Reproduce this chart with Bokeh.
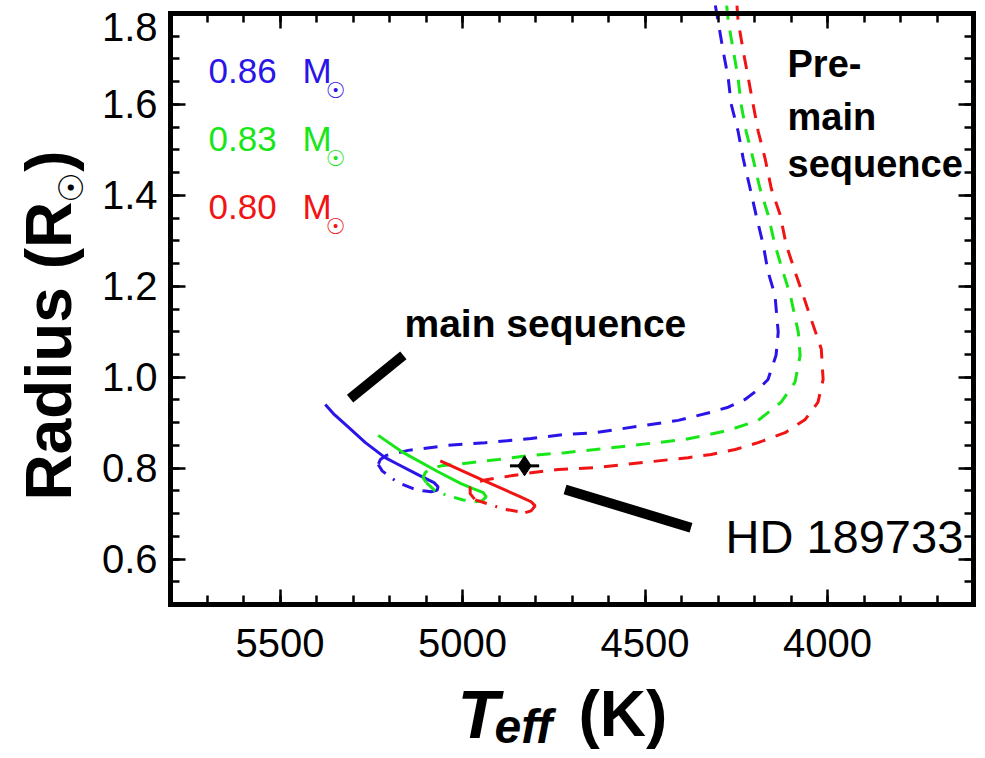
import math
from bokeh.plotting import figure
from bokeh.models import Range1d, FixedTicker, LinearAxis, Label, CustomJSTickFormatter
from bokeh.embed import file_html
from bokeh.resources import INLINE

# ---------------- data ----------------
# 0.86 Msun track: pre-main-sequence (dashed), ZAMS approach (dash-dot), main sequence (solid)
B_PMS_T = [4319, 4300, 4286, 4272, 4264, 4245, 4231, 4212, 4196, 4176, 4163, 4144, 4135, 4141, 4163,
           4190, 4226, 4272, 4319, 4374, 4409, 4636, 4719, 4812, 4938, 5039, 5149, 5184, 5209, 5225, 5231]
B_PMS_R = [1.872, 1.784, 1.718, 1.658, 1.601, 1.541, 1.481, 1.415, 1.358, 1.291, 1.232, 1.181, 1.099, 1.048, 0.995,
           0.973, 0.951, 0.934, 0.923, 0.912, 0.905, 0.878, 0.874, 0.865, 0.856, 0.850, 0.839, 0.832, 0.828, 0.819, 0.808]
B_ZA_T = [5231, 5220, 5203, 5176, 5135, 5108]
B_ZA_R = [0.808, 0.794, 0.783, 0.768, 0.755, 0.750]
B_MS_T = [5108, 5086, 5069, 5067, 5078, 5121, 5176, 5212, 5266, 5321, 5354, 5376]
B_MS_R = [0.750, 0.748, 0.752, 0.759, 0.768, 0.785, 0.808, 0.823, 0.856, 0.896, 0.920, 0.940]

# 0.83 Msun track
G_PMS_T = [4283, 4272, 4258, 4245, 4237, 4223, 4204, 4185, 4163, 4144, 4122, 4102, 4080, 4075,
           4089, 4127, 4190, 4272, 4335, 4390, 4636, 4719, 4812, 4902, 5020, 5058, 5088, 5102, 5108, 5099]
G_PMS_R = [1.872, 1.784, 1.718, 1.658, 1.601, 1.541, 1.481, 1.415, 1.358, 1.291, 1.232, 1.181, 1.099, 1.048,
           0.989, 0.945, 0.905, 0.883, 0.872, 0.863, 0.841, 0.834, 0.828, 0.819, 0.808, 0.805, 0.799, 0.790, 0.779, 0.768]
G_ZA_T = [5099, 5075, 5039, 4998, 4965]
G_ZA_R = [0.768, 0.750, 0.739, 0.730, 0.726]
G_MS_T = [4965, 4946, 4935, 4943, 4971, 5004, 5067, 5162, 5231]
G_MS_R = [0.726, 0.728, 0.737, 0.746, 0.755, 0.766, 0.792, 0.834, 0.872]

# 0.80 Msun track
R_PMS_T = [4253, 4245, 4231, 4217, 4204, 4190, 4171, 4154, 4130, 4113, 4089, 4067, 4045, 4017, 4012,
           4026, 4061, 4116, 4190, 4253, 4319, 4382, 4636, 4738, 4828, 4867, 4938, 4965, 4979, 4979, 4965]
R_PMS_R = [1.872, 1.784, 1.718, 1.658, 1.601, 1.541, 1.481, 1.415, 1.358, 1.291, 1.232, 1.181, 1.128, 1.062, 0.995,
           0.945, 0.907, 0.878, 0.856, 0.841, 0.830, 0.823, 0.801, 0.797, 0.788, 0.783, 0.774, 0.768, 0.757, 0.744, 0.730]
R_ZA_T = [4965, 4921, 4888, 4828]
R_ZA_R = [0.730, 0.719, 0.710, 0.702]
R_MS_T = [4828, 4812, 4801, 4812, 4847, 4949, 5061]
R_MS_R = [0.702, 0.706, 0.717, 0.726, 0.739, 0.775, 0.816]

# HD 189733
HD_T = [4830]
HD_T_ERR = [40]
HD_R = [0.805]

MASS_LABELS = ["0.86", "0.83", "0.80"]
MASS_COLORS = ["#2a14e8", "#19e619", "#f01414"]

X_TICKS = [4000, 4500, 5000, 5500]
X_TICK_LABELS = ["4000", "4500", "5000", "5500"]
X_MINOR = list(range(3600, 5801, 100))
Y_TICKS = [0.6, 0.8, 1.0, 1.2, 1.4, 1.6]
Y_TICK_LABELS = ["0.6", "0.8", "1.0", "1.2", "1.4", "1.6"]
Y_TOP_LABEL = "1.8"
Y_MINOR = [round(0.5 + 0.05 * i, 2) for i in range(27)]

# annotation pointers
MS_PTR_T = [5308, 5162]
MS_PTR_R = [0.953, 1.048]
HD_PTR_T = [4719, 4374]
HD_PTR_R = [0.753, 0.669]

BLUE, GREEN, RED = MASS_COLORS

# ---------------- geometry ----------------
X0, X1 = 5800, 3600            # plot box (reversed temperature axis)
Y0, Y1 = 0.5, 1.8
FL, FR, FT, FB = 170, 973, 13, 604          # plot box edges on the page
W, H = 983, 756


def t_at(px):
    return X0 + (px - FL) * (X1 - X0) / (FR - FL)


def r_at(py):
    return Y1 - (py - FT) * (Y1 - Y0) / (FB - FT)


p = figure(width=W, height=H, output_backend="svg", toolbar_location=None,
           x_range=Range1d(t_at(0), t_at(W)), y_range=Range1d(r_at(H), r_at(0)),
           min_border=0, x_axis_location=None, y_axis_location=None)
p.grid.visible = False
p.outline_line_color = None
p.background_fill_color = "white"
p.border_fill_color = "white"

TICK_FONT = "Liberation Sans"


def make_axis(ticks, minor, loc, bounds, labels=None):
    ax = LinearAxis(fixed_location=loc, bounds=bounds)
    ax.ticker = FixedTicker(ticks=ticks, minor_ticks=minor)
    ax.axis_line_color = "black"
    ax.axis_line_width = 5
    ax.axis_line_cap = "square"
    ax.major_tick_in = 15
    ax.major_tick_out = 0
    ax.minor_tick_in = 9
    ax.minor_tick_out = 0
    ax.major_tick_line_width = 2.5
    ax.minor_tick_line_width = 2.5
    ax.major_tick_line_color = "black"
    ax.minor_tick_line_color = "black"
    if labels is None:
        ax.formatter = CustomJSTickFormatter(code="return ''")
        ax.major_label_standoff = 0
        ax.major_label_text_font_size = "1px"
    else:
        ax.major_label_overrides = {t: l for t, l in zip(ticks, labels)}
        ax.major_label_text_font = TICK_FONT
        ax.major_label_text_font_size = "40px"
        ax.major_label_text_color = "black"
    return ax


xb = make_axis(X_TICKS, X_MINOR, Y0, (X1, X0), X_TICK_LABELS)
xb.major_label_standoff = 24
p.add_layout(xb, "below")
p.add_layout(make_axis(X_TICKS, X_MINOR, Y1, (X1, X0)), "above")
yl = make_axis(Y_TICKS, Y_MINOR, X0, (Y0, Y1), Y_TICK_LABELS)
yl.major_label_standoff = 13
p.add_layout(yl, "left")
p.add_layout(make_axis(Y_TICKS, Y_MINOR, X1, (Y0, Y1)), "right")

# ---------------- tracks ----------------
DASH = "14 11"
DASHDOT = "12 9 2 9"
LW = 3
for col, pt, pr, zt, zr, mt, mr in [
    (BLUE, B_PMS_T, B_PMS_R, B_ZA_T, B_ZA_R, B_MS_T, B_MS_R),
    (GREEN, G_PMS_T, G_PMS_R, G_ZA_T, G_ZA_R, G_MS_T, G_MS_R),
    (RED, R_PMS_T, R_PMS_R, R_ZA_T, R_ZA_R, R_MS_T, R_MS_R),
]:
    # the tracks run off the top of the plot box
    keep = [i for i, r in enumerate(pr) if r <= Y1 + 0.001]
    first = max(keep[0] - 1, 0)
    p.line(pt[first:], pr[first:], line_color=col, line_width=LW, line_dash=DASH)
    p.line(zt, zr, line_color=col, line_width=LW, line_dash=DASHDOT)
    p.line(mt, mr, line_color=col, line_width=LW)

# HD 189733 point with error bar
p.segment(x0=[t - e for t, e in zip(HD_T, HD_T_ERR)], x1=[t + e for t, e in zip(HD_T, HD_T_ERR)],
          y0=HD_R, y1=HD_R, line_color="black", line_width=3)
p.scatter(HD_T, HD_R, marker="diamond", size=20, color="black")

# pointer lines
p.line(MS_PTR_T, MS_PTR_R, line_color="black", line_width=10)
p.line(HD_PTR_T, HD_PTR_R, line_color="black", line_width=10)

# ---------------- texts ----------------
BOLD = "Liberation Sans"


def label(px_, py_, text, size, style="normal", color="black", font=BOLD, align="left", angle=0.0):
    p.add_layout(Label(x=t_at(px_), y=r_at(py_), text=text, text_font=font, text_font_style=style,
                       text_font_size=size, text_color=color, text_align=align,
                       text_baseline="middle", angle=angle))


label(404, 323, "main sequence", "39px", "bold")
label(787, 63, "Pre-", "38px", "bold")
label(787, 116, "main", "38px", "bold")
label(787, 163, "sequence", "38px", "bold")
label(725, 536, "HD 189733", "47px")

for lab, col, py in zip(MASS_LABELS, MASS_COLORS, [70, 138, 206]):
    label(208, py, lab, "35px", color=col)
    label(302, py, "M", "35px", color=col)
    label(335, py + 20, "\u2609", "22px", color=col, font="DejaVu Sans", align="center")

# top y tick label (IDL draws it just below the top edge)
label(157, 26, Y_TOP_LABEL, "40px", font=TICK_FONT, align="right")

# y axis title
label(48, 500, "Radius (R", "64px", "bold", angle=math.pi / 2)
label(70, 187, "\u2609", "34px", "bold", font="DejaVu Sans", align="center", angle=math.pi / 2)
label(48, 150, ")", "64px", "bold", align="right", angle=math.pi / 2)

# x axis title
label(457, 713, "T", "68px", "bold italic")
label(494, 726, "eff", "48px", "bold italic")
label(578, 713, "(K)", "64px", "bold")

open("out.html", "w").write(file_html(p, INLINE))
